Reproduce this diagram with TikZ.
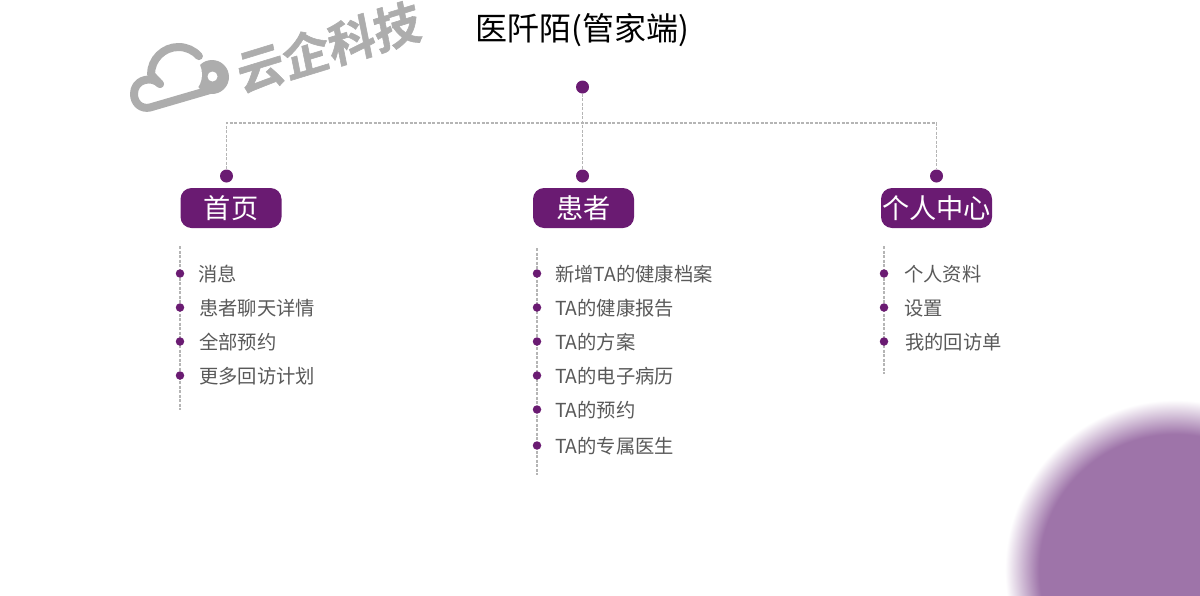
\documentclass[tikz,border=0pt]{standalone}
\usepackage{fontspec}
\setmainfont{Noto Sans CJK SC}
\newfontfamily\logofont[FakeSlant=0.1,FakeBold=1.2]{Noto Sans CJK SC Bold}
\usetikzlibrary{positioning}
\definecolor{morado}{HTML}{6A1B72}
\definecolor{discolor}{HTML}{9E74A9}
\definecolor{lineacolor}{HTML}{B5B5B5}
\definecolor{textocolor}{HTML}{595959}
\definecolor{logocolor}{HTML}{ADADAD}
\pgfdeclareradialshading{softdisc}{\pgfpoint{0bp}{0bp}}{color(0bp)=(discolor); color(20bp)=(discolor); color(25bp)=(white); color(50bp)=(white)}
\tikzset{
  bigdot/.style={circle,fill=morado,inner sep=0pt,minimum size=13pt},
  smalldot/.style={circle,fill=morado,inner sep=0pt,minimum size=8.5pt},
  headbox/.style={fill=morado,rounded corners=11pt,minimum height=40pt,inner sep=0pt,text=white,font=\fontsize{27.2}{27.2}\selectfont},
  itemtext/.style={anchor=west,inner sep=0pt,yshift=-0.8pt,text=textocolor,font=\fontsize{19.3}{19.3}\selectfont},
  guide/.style={draw=lineacolor,line width=1.1pt,dash pattern=on 3pt off 1.5pt},
}
\begin{document}
\begin{tikzpicture}[x=1pt,y=-1pt]
\useasboundingbox (0,0) rectangle (1200,595);
% disco
\begin{scope}
  \clip (0,0) rectangle (1200,595);
  \shade[shading=softdisc] (1175,570) circle [radius=170];
\end{scope}
% logo
\fill[logocolor] (212,77) circle [radius=17];
\fill[white] (178.5,74.5) circle [radius=23.5];
\fill[white] (212.5,76.5) circle [radius=5];
\draw[logocolor,line width=8pt,line cap=round,line join=round] (160,84) -- (151,74.5) arc [start angle=180, end angle=318, radius=27.5];
\draw[logocolor,line width=8pt,line cap=round,line join=round] (160,84) .. controls (156,80) and (150,78.5) .. (145,80) .. controls (137,82) and (134,88) .. (134,94) .. controls (134,103) and (141,109.5) .. (150,107.5) -- (210,90);
\node[rotate=17,text=logocolor,font=\logofont\fontsize{47.5}{47.5}\selectfont,inner sep=0pt] (logotext) at (327,47.5) {云企科技};
% titulo
\node[font=\fontsize{32}{32}\selectfont,inner sep=0pt] (titulo) at (582,30) {医阡陌(管家端)};
% raiz y ramas
\node[bigdot] (raiz) at (582.5,87) {};
\node[bigdot] (dotinicio) at (226.5,176) {};
\node[bigdot] (dotpaciente) at (582.5,176) {};
\node[bigdot] (dotcentro) at (936.5,176) {};
\coordinate (cruce) at (582.5,123);
\draw[guide] (raiz) -- (dotpaciente);
\draw[guide] (dotinicio) |- (cruce) -| (dotcentro);
% cabeceras
\node[headbox,minimum width=101pt] (inicio) at (231,208) {首页};
\node[headbox,minimum width=101pt] (paciente) at (583.5,208) {患者};
\node[headbox,minimum width=111pt] (centro) at (936.5,208) {个人中心};
% listas
\coordinate (a1) at (180,246); \coordinate (a2) at (180,410);
\coordinate (b1) at (537,248); \coordinate (b2) at (537,475);
\coordinate (c1) at (884,246); \coordinate (c2) at (884,374);
\draw[guide] (a1) -- (a2);
\draw[guide] (b1) -- (b2);
\draw[guide] (c1) -- (c2);
\foreach \n/\y/\tx/\t in {1/273.5/198/消息,2/307.5/199/患者聊天详情,3/341.5/199/全部预约,4/375.5/199/更多回访计划}
{
  \node[smalldot] (ad\n) at (180,\y) {};
  \node[itemtext] (at\n) at (\tx,\y) {\t};
}
\foreach \n/\y/\t in {1/273.5/新增TA的健康档案,2/307.5/TA的健康报告,3/341.5/TA的方案,4/375.5/TA的电子病历,5/409.5/TA的预约,6/445.5/TA的专属医生}
{
  \node[smalldot] (bd\n) at (537,\y) {};
  \node[itemtext] (bt\n) at (555,\y) {\t};
}
\foreach \n/\y/\tx/\t in {1/273.5/904/个人资料,2/307.5/904/设置,3/341.5/905/我的回访单}
{
  \node[smalldot] (cd\n) at (884,\y) {};
  \node[itemtext] (ct\n) at (\tx,\y) {\t};
}
\end{tikzpicture}
\end{document}
